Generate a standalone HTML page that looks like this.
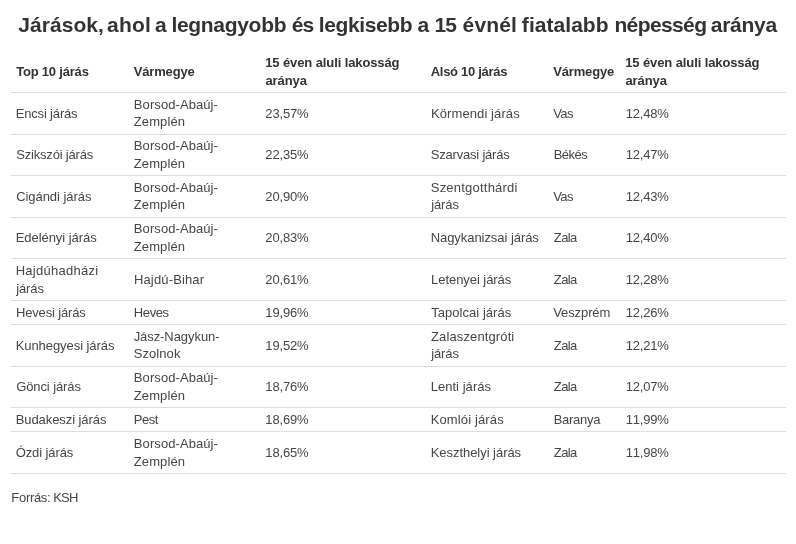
<!DOCTYPE html>
<html lang="hu">
<head>
<meta charset="utf-8">
<title>Járások, ahol a legnagyobb és legkisebb a 15 évnél fiatalabb népesség aránya</title>
<style>
*{box-sizing:border-box;margin:0;padding:0}
html,body{width:796px;height:544px;background:#fff;overflow:hidden}
body{font-family:"Liberation Sans",sans-serif;color:#464646;position:relative}
h1{position:absolute;left:0;top:11px;width:796px;height:28px;font-size:21px;line-height:28px;font-weight:700;color:#333333;white-space:nowrap;text-align:center}
h1 span{position:absolute;top:0}
.tbl{position:absolute;left:11px;top:0;width:775px}
.row{position:absolute;left:0;width:775px;border-bottom:1px solid #dddddd}
.c{display:contents}
.l{position:absolute;display:block;white-space:nowrap;font-size:13px;line-height:17px}
.n{font-kerning:none}
.hd .l{font-weight:700;color:#333333;font-size:13px}
.foot{position:absolute;left:0;top:489px;width:796px;height:17px;font-size:13px;line-height:17px;color:#464646;white-space:nowrap}
.foot span{position:absolute;top:0}
</style>
</head>
<body>
<h1><span style="left:18.25px;letter-spacing:0.057px">Járások,</span> <span style="left:107.04px;letter-spacing:0.216px">ahol</span> <span style="left:154.99px;letter-spacing:-0.300px">a</span> <span style="left:171.46px;letter-spacing:-0.312px">legnagyobb</span> <span style="left:291.82px;letter-spacing:-0.900px">és</span> <span style="left:318.69px;letter-spacing:-0.375px">legkisebb</span> <span style="left:417.46px;letter-spacing:-0.300px">a</span> <span style="left:434.60px;letter-spacing:-0.900px">15</span> <span style="left:462.58px;letter-spacing:0.123px">évnél</span> <span style="left:521.87px;letter-spacing:0.044px">fiatalabb</span> <span style="left:614.40px;letter-spacing:-0.614px">népesség</span> <span style="left:710.73px;letter-spacing:-0.270px">aránya</span></h1>
<div class="tbl" role="table">
<div class="row hd" role="row" style="top:50px;height:43px">
<div class="c" role="columnheader"><span class="l" style="left:5.15px;top:13px;letter-spacing:-0.197px">Top 10 járás</span></div>
<div class="c" role="columnheader"><span class="l" style="left:122.80px;top:13px;letter-spacing:-0.180px">Vármegye</span></div>
<div class="c" role="columnheader"><span class="l" style="left:254.25px;top:4px;letter-spacing:-0.109px">15 éven aluli lakosság</span> <span class="l" style="left:254.50px;top:22px;letter-spacing:-0.110px">aránya</span></div>
<div class="c" role="columnheader"><span class="l" style="left:419.75px;top:13px;letter-spacing:-0.288px">Alsó 10 járás</span></div>
<div class="c" role="columnheader"><span class="l" style="left:542.30px;top:13px;letter-spacing:-0.180px">Vármegye</span></div>
<div class="c" role="columnheader"><span class="l" style="left:614.25px;top:4px;letter-spacing:-0.109px">15 éven aluli lakosság</span> <span class="l" style="left:614.50px;top:22px;letter-spacing:-0.110px">aránya</span></div>
</div>
<div class="row" role="row" style="top:93px;height:42px">
<div class="c" role="cell"><span class="l" style="left:4.65px;top:12px;letter-spacing:-0.160px">Encsi járás</span></div>
<div class="c" role="cell"><span class="l" style="left:122.85px;top:3px;letter-spacing:0.077px">Borsod-Abaúj-</span><span class="l" style="left:122.80px;top:20px;letter-spacing:0.100px">Zemplén</span></div>
<div class="c" role="cell"><span class="l n" style="left:254.35px;top:12px;letter-spacing:-0.160px">23,57%</span></div>
<div class="c" role="cell"><span class="l" style="left:419.95px;top:12px;letter-spacing:0.100px">Körmendi járás</span></div>
<div class="c" role="cell"><span class="l" style="left:542.20px;top:12px;letter-spacing:-0.550px">Vas</span></div>
<div class="c" role="cell"><span class="l n" style="left:614.65px;top:12px;letter-spacing:-0.160px">12,48%</span></div>
</div>
<div class="row" role="row" style="top:135px;height:41px">
<div class="c" role="cell"><span class="l" style="left:5.15px;top:11px;letter-spacing:-0.177px">Szikszói járás</span></div>
<div class="c" role="cell"><span class="l" style="left:122.85px;top:2px;letter-spacing:0.077px">Borsod-Abaúj-</span><span class="l" style="left:122.80px;top:20px;letter-spacing:0.100px">Zemplén</span></div>
<div class="c" role="cell"><span class="l n" style="left:254.35px;top:11px;letter-spacing:-0.160px">22,35%</span></div>
<div class="c" role="cell"><span class="l" style="left:419.75px;top:11px;letter-spacing:-0.203px">Szarvasi járás</span></div>
<div class="c" role="cell"><span class="l" style="left:542.70px;top:11px;letter-spacing:-0.527px">Békés</span></div>
<div class="c" role="cell"><span class="l n" style="left:614.65px;top:11px;letter-spacing:-0.160px">12,47%</span></div>
</div>
<div class="row" role="row" style="top:176px;height:42px">
<div class="c" role="cell"><span class="l" style="left:5.15px;top:12px;letter-spacing:-0.050px">Cigándi járás</span></div>
<div class="c" role="cell"><span class="l" style="left:122.85px;top:3px;letter-spacing:0.077px">Borsod-Abaúj-</span><span class="l" style="left:122.80px;top:20px;letter-spacing:0.100px">Zemplén</span></div>
<div class="c" role="cell"><span class="l n" style="left:254.35px;top:12px;letter-spacing:-0.160px">20,90%</span></div>
<div class="c" role="cell"><span class="l" style="left:419.75px;top:3px;letter-spacing:0.221px">Szentgotthárdi</span> <span class="l" style="left:420.21px;top:20px;letter-spacing:-0.115px">járás</span></div>
<div class="c" role="cell"><span class="l" style="left:542.20px;top:12px;letter-spacing:-0.550px">Vas</span></div>
<div class="c" role="cell"><span class="l n" style="left:614.65px;top:12px;letter-spacing:-0.160px">12,43%</span></div>
</div>
<div class="row" role="row" style="top:218px;height:41px">
<div class="c" role="cell"><span class="l" style="left:4.65px;top:11px;letter-spacing:-0.042px">Edelényi járás</span></div>
<div class="c" role="cell"><span class="l" style="left:122.85px;top:2px;letter-spacing:0.077px">Borsod-Abaúj-</span><span class="l" style="left:122.80px;top:20px;letter-spacing:0.100px">Zemplén</span></div>
<div class="c" role="cell"><span class="l n" style="left:254.35px;top:11px;letter-spacing:-0.160px">20,83%</span></div>
<div class="c" role="cell"><span class="l" style="left:419.65px;top:11px;letter-spacing:-0.053px">Nagykanizsai járás</span></div>
<div class="c" role="cell"><span class="l" style="left:542.85px;top:11px;letter-spacing:-0.601px">Zala</span></div>
<div class="c" role="cell"><span class="l n" style="left:614.65px;top:11px;letter-spacing:-0.160px">12,40%</span></div>
</div>
<div class="row" role="row" style="top:259px;height:42px">
<div class="c" role="cell"><span class="l" style="left:4.65px;top:3px;letter-spacing:0.281px">Hajdúhadházi</span> <span class="l" style="left:5.21px;top:21px;letter-spacing:-0.115px">járás</span></div>
<div class="c" role="cell"><span class="l" style="left:122.95px;top:12px;letter-spacing:0.150px">Hajdú-Bihar</span></div>
<div class="c" role="cell"><span class="l n" style="left:254.35px;top:12px;letter-spacing:-0.160px">20,61%</span></div>
<div class="c" role="cell"><span class="l" style="left:420.05px;top:12px;letter-spacing:-0.054px">Letenyei járás</span></div>
<div class="c" role="cell"><span class="l" style="left:542.85px;top:12px;letter-spacing:-0.601px">Zala</span></div>
<div class="c" role="cell"><span class="l n" style="left:614.65px;top:12px;letter-spacing:-0.160px">12,28%</span></div>
</div>
<div class="row" role="row" style="top:301px;height:24px">
<div class="c" role="cell"><span class="l" style="left:4.95px;top:3px;letter-spacing:-0.156px">Hevesi járás</span></div>
<div class="c" role="cell"><span class="l" style="left:122.85px;top:3px;letter-spacing:-0.415px">Heves</span></div>
<div class="c" role="cell"><span class="l n" style="left:254.35px;top:3px;letter-spacing:-0.160px">19,96%</span></div>
<div class="c" role="cell"><span class="l" style="left:420.25px;top:3px;letter-spacing:0.037px">Tapolcai járás</span></div>
<div class="c" role="cell"><span class="l" style="left:542.20px;top:3px;letter-spacing:-0.093px">Veszprém</span></div>
<div class="c" role="cell"><span class="l n" style="left:614.65px;top:3px;letter-spacing:-0.160px">12,26%</span></div>
</div>
<div class="row" role="row" style="top:325px;height:42px">
<div class="c" role="cell"><span class="l" style="left:4.65px;top:12px;letter-spacing:-0.059px">Kunhegyesi járás</span></div>
<div class="c" role="cell"><span class="l" style="left:122.65px;top:3px;letter-spacing:-0.065px">Jász-Nagykun-</span><span class="l" style="left:122.65px;top:20px;letter-spacing:0.084px">Szolnok</span></div>
<div class="c" role="cell"><span class="l n" style="left:254.35px;top:12px;letter-spacing:-0.160px">19,52%</span></div>
<div class="c" role="cell"><span class="l" style="left:420.00px;top:3px;letter-spacing:0.123px">Zalaszentgróti</span> <span class="l" style="left:420.21px;top:20px;letter-spacing:-0.115px">járás</span></div>
<div class="c" role="cell"><span class="l" style="left:542.85px;top:12px;letter-spacing:-0.601px">Zala</span></div>
<div class="c" role="cell"><span class="l n" style="left:614.65px;top:12px;letter-spacing:-0.160px">12,21%</span></div>
</div>
<div class="row" role="row" style="top:367px;height:41px">
<div class="c" role="cell"><span class="l" style="left:5.15px;top:11px;letter-spacing:-0.095px">Gönci járás</span></div>
<div class="c" role="cell"><span class="l" style="left:122.85px;top:2px;letter-spacing:0.077px">Borsod-Abaúj-</span><span class="l" style="left:122.80px;top:20px;letter-spacing:0.100px">Zemplén</span></div>
<div class="c" role="cell"><span class="l n" style="left:254.35px;top:11px;letter-spacing:-0.160px">18,76%</span></div>
<div class="c" role="cell"><span class="l" style="left:419.65px;top:11px;letter-spacing:0.040px">Lenti járás</span></div>
<div class="c" role="cell"><span class="l" style="left:542.85px;top:11px;letter-spacing:-0.601px">Zala</span></div>
<div class="c" role="cell"><span class="l n" style="left:614.65px;top:11px;letter-spacing:-0.160px">12,07%</span></div>
</div>
<div class="row" role="row" style="top:408px;height:24px">
<div class="c" role="cell"><span class="l" style="left:4.65px;top:3px;letter-spacing:-0.071px">Budakeszi járás</span></div>
<div class="c" role="cell"><span class="l" style="left:122.80px;top:3px;letter-spacing:-0.499px">Pest</span></div>
<div class="c" role="cell"><span class="l n" style="left:254.35px;top:3px;letter-spacing:-0.160px">18,69%</span></div>
<div class="c" role="cell"><span class="l" style="left:419.65px;top:3px;letter-spacing:0.134px">Komlói járás</span></div>
<div class="c" role="cell"><span class="l" style="left:542.70px;top:3px;letter-spacing:-0.283px">Baranya</span></div>
<div class="c" role="cell"><span class="l n" style="left:614.65px;top:3px;letter-spacing:-0.160px">11,99%</span></div>
</div>
<div class="row" role="row" style="top:432px;height:42px">
<div class="c" role="cell"><span class="l" style="left:4.65px;top:12px;letter-spacing:-0.089px">Ózdi járás</span></div>
<div class="c" role="cell"><span class="l" style="left:122.85px;top:3px;letter-spacing:0.077px">Borsod-Abaúj-</span><span class="l" style="left:122.80px;top:21px;letter-spacing:0.100px">Zemplén</span></div>
<div class="c" role="cell"><span class="l n" style="left:254.35px;top:12px;letter-spacing:-0.160px">18,65%</span></div>
<div class="c" role="cell"><span class="l" style="left:419.65px;top:12px;letter-spacing:-0.038px">Keszthelyi járás</span></div>
<div class="c" role="cell"><span class="l" style="left:542.85px;top:12px;letter-spacing:-0.601px">Zala</span></div>
<div class="c" role="cell"><span class="l n" style="left:614.65px;top:12px;letter-spacing:-0.160px">11,98%</span></div>
</div>
</div>
<div class="foot"><span style="left:11.32px;letter-spacing:-0.300px">Forrás:</span> <span style="left:53.24px;letter-spacing:-0.800px">KSH</span></div>
</body>
</html>
